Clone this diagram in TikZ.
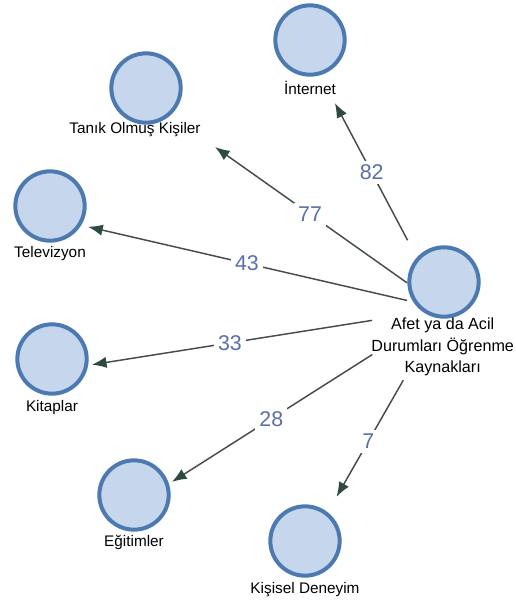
\documentclass[tikz,border=0pt]{standalone}
\usepackage{fontspec}
\setmainfont{Liberation Sans}
\usetikzlibrary{positioning,arrows.meta}
\definecolor{daire}{HTML}{C6D6EC}
\definecolor{cerceve}{HTML}{4C7AB0}
\definecolor{okrenk}{HTML}{434D4C}
\definecolor{okucu}{HTML}{2D4A43}
\definecolor{sayirenk}{HTML}{5B6FA6}
\tikzset{
>={Latex[length=11pt,width=8.5pt,color=okucu]},
  kaynak/.style={
    circle,
    fill=daire,
    draw=cerceve, line width=3pt,
    minimum size=52pt,
    inner sep=0pt},
  etiket/.style={
    font=\fontsize{11.5}{16}\selectfont,
    align=center,
    inner sep=1pt},
  line/.style={draw=okrenk, line width=1.1pt, ->},
  sayi/.style={
    font=\fontsize{16}{18}\selectfont,
    text=sayirenk,
    fill=white,
    inner sep=3pt},
}

\begin{document}
\begin{tikzpicture}
[x=0.75pt, y=-0.75pt]
    \useasboundingbox (0,0) rectangle (516,604);

    % kaynaklar
    \node [kaynak] (afet) at (444,282) {};
    \node [etiket, below of=afet, node distance=48.75pt, xshift=-1pt, font=\fontsize{12.1}{16}\selectfont] (afetl) {Afet ya da Acil\\Durumları Öğrenme\\Kaynakları};
    \node [kaynak] (int) at (310,40) {};
    \node [etiket, below of=int, node distance=36pt] (intl) {İnternet};
    \node [kaynak] (tanik) at (146,88) {};
    \node [etiket, below of=tanik, node distance=31.5pt, xshift=-8.25pt] (tanikl) {Tanık Olmuş Kişiler};
    \node [kaynak] (tv) at (50,206) {};
    \node [etiket, below of=tv, node distance=36pt] (tvl) {Televizyon};
    \node [kaynak] (kitap) at (52,359) {};
    \node [etiket, below of=kitap, node distance=36.75pt] (kitapl) {Kitaplar};
    \node [kaynak] (egitim) at (134,495) {};
    \node [etiket, below of=egitim, node distance=35.25pt] (egitiml) {Eğitimler};
    \node [kaynak] (deneyim) at (305,541) {};
    \node [etiket, below of=deneyim, node distance=36.75pt] (deneyiml) {Kişisel Deneyim};

    % grup merkezleri
    \coordinate (afet-g) at (444,309);
    \coordinate (int-g) at (310,56);
    \coordinate (tanik-g) at (143,96);
    \coordinate (tv-g) at (50,218);
    \coordinate (kitap-g) at (52,371);
    \coordinate (egitim-g) at (134,506);
    \coordinate (deneyim-g) at (305,552);

    \draw[line, shorten <=58.3pt, shorten >=39.9pt] (afet-g) -- node[sayi, pos=.54]{82} (int-g);
    \draw[line, shorten <=33.9pt, shorten >=66.2pt] (afet-g) -- node[sayi, pos=.445]{77} (tanik-g);
    \draw[line, shorten <=28.5pt, shorten >=29.3pt] (afet-g) -- node[sayi, pos=.5]{43} (tv-g);
    \draw[line, shorten <=54.6pt, shorten >=30.3pt] (afet-g) -- node[sayi, pos=.546]{33} (kitap-g);
    \draw[line, shorten <=63.7pt, shorten >=33.7pt] (afet-g) -- node[sayi, pos=.557]{28} (egitim-g);
    \draw[line, shorten <=61.5pt, shorten >=47.7pt] (afet-g) -- node[sayi, pos=.544]{7} (deneyim-g);

\end{tikzpicture}
\end{document}
